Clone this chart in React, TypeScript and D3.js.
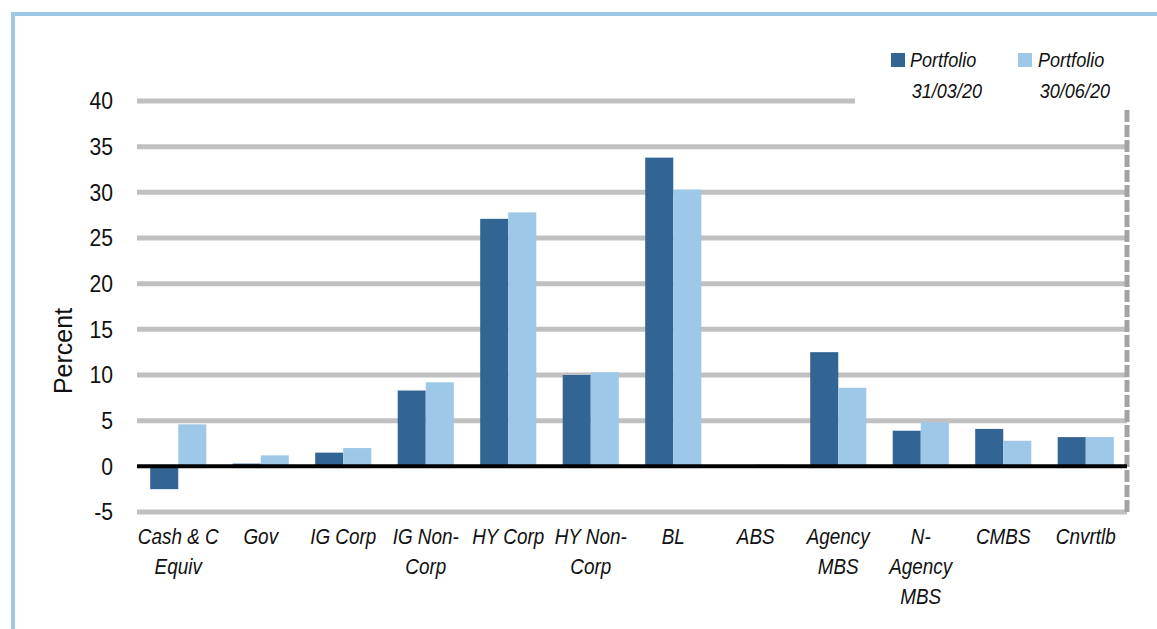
import React, { useEffect, useRef } from 'react';
import * as d3 from 'd3';

const CATEGORIES = [
  'Cash & C|Equiv', 'Gov', 'IG Corp', 'IG Non-|Corp', 'HY Corp', 'HY Non-|Corp',
  'BL', 'ABS', 'Agency|MBS', 'N-|Agency|MBS', 'CMBS', 'Cnvrtlb',
];
const SERIES = ['Portfolio 31/03/20', 'Portfolio 30/06/20'];
const MARCH = [-2.5, 0.3, 1.5, 8.3, 27.1, 10.0, 33.8, 0, 12.5, 3.9, 4.1, 3.2];
const JUNE = [4.6, 1.2, 2.0, 9.2, 27.8, 10.3, 30.3, 0.2, 8.6, 4.8, 2.8, 3.2];
const Y_TICKS = [-5, 0, 5, 10, 15, 20, 25, 30, 35, 40];
const COLORS = ['#336594', '#9dc8e8'];

const App: React.FC = () => {
  const svgRef = useRef<SVGSVGElement>(null);

  useEffect(() => {
    if (!svgRef.current) return;
    const svg = d3.select(svgRef.current);
    svg.selectAll('*').remove();

    const left = 137, right = 1127, top = 101, bottom = 512;
    const sans = '"Liberation Sans", Arial, sans-serif';

    // frame (top + left edge)
    svg.append('path')
      .attr('d', 'M13,629 V14 H1157')
      .attr('fill', 'none')
      .attr('stroke', '#9dc8e8')
      .attr('stroke-width', 4);

    const x = d3.scaleBand<string>()
      .domain(CATEGORIES)
      .range([left, right])
      .paddingInner(0.32)
      .paddingOuter(0.16);

    const xs = d3.scaleBand<string>()
      .domain(SERIES)
      .range([0, x.bandwidth()]);

    const y = d3.scaleLinear().domain([-5, 40]).range([bottom, top]);

    // gridlines
    svg.append('g')
      .selectAll('line')
      .data(Y_TICKS.filter(t => t !== 0))
      .enter()
      .append('line')
      .attr('x1', left)
      .attr('x2', d => (d === 40 ? 855 : right))
      .attr('y1', d => y(d))
      .attr('y2', d => y(d))
      .attr('stroke', '#c0c0c0')
      .attr('stroke-width', 5);

    // right dashed edge
    svg.append('line')
      .attr('x1', right)
      .attr('x2', right)
      .attr('y1', 110)
      .attr('y2', bottom + 3)
      .attr('stroke', '#a3a3a3')
      .attr('stroke-width', 5)
      .attr('stroke-dasharray', '12,3');

    // y tick labels
    svg.append('g')
      .selectAll('text')
      .data(Y_TICKS)
      .enter()
      .append('text')
      .attr('transform', d => `translate(113,${y(d)}) scale(0.92,1)`)
      .attr('dy', '0.36em')
      .attr('text-anchor', 'end')
      .attr('font-family', sans)
      .attr('font-size', 23)
      .attr('fill', '#111')
      .text(d => String(d));

    svg.append('text')
      .attr('transform', `translate(72,351) rotate(-90)`)
      .attr('text-anchor', 'middle')
      .attr('font-family', sans)
      .attr('font-size', 25)
      .attr('fill', '#111')
      .text('Percent');

    // bars
    const rows = CATEGORIES.map((c, i) => ({ c, vals: [MARCH[i], JUNE[i]] }));
    const groups = svg.append('g')
      .selectAll('g')
      .data(rows)
      .enter()
      .append('g')
      .attr('transform', d => `translate(${x(d.c)},0)`);

    groups.selectAll('rect')
      .data(d => d.vals.map((v, k) => ({ v, k })))
      .enter()
      .append('rect')
      .attr('x', d => xs(SERIES[d.k]) as number)
      .attr('width', xs.bandwidth())
      .attr('y', d => y(Math.max(0, d.v)))
      .attr('height', d => Math.abs(y(d.v) - y(0)))
      .attr('fill', d => COLORS[d.k]);

    // zero line
    svg.append('line')
      .attr('x1', left)
      .attr('x2', right)
      .attr('y1', y(0))
      .attr('y2', y(0))
      .attr('stroke', '#000')
      .attr('stroke-width', 4);

    // x labels (condensed italic)
    const labels = svg.append('g')
      .selectAll('text')
      .data(CATEGORIES)
      .enter()
      .append('text')
      .attr('transform', d => `translate(${(x(d) as number) + x.bandwidth() / 2},544) scale(0.86,1)`)
      .attr('text-anchor', 'middle')
      .attr('font-family', sans)
      .attr('font-style', 'italic')
      .attr('font-size', 22)
      .attr('fill', '#111');

    labels.selectAll('tspan')
      .data(d => d.split('|'))
      .enter()
      .append('tspan')
      .attr('x', 0)
      .attr('dy', (_, i) => (i === 0 ? 0 : 30))
      .text(d => d);

    // legend
    const legend = [
      { sx: 891, tx: 910, lines: ['Portfolio', '31/03/20'] },
      { sx: 1018, tx: 1038, lines: ['Portfolio', '30/06/20'] },
    ];
    legend.forEach((l, i) => {
      svg.append('rect')
        .attr('x', l.sx)
        .attr('y', 53)
        .attr('width', 14)
        .attr('height', 14)
        .attr('fill', COLORS[i]);
      const t = svg.append('text')
        .attr('transform', `translate(${l.tx},0) scale(0.86,1)`)
        .attr('font-family', sans)
        .attr('font-style', 'italic')
        .attr('font-size', 21)
        .attr('fill', '#111');
      t.append('tspan').attr('x', 0).attr('y', 67).text(l.lines[0]);
      t.append('tspan').attr('x', 2).attr('y', 98).text(l.lines[1]);
    });
  }, []);

  return (
    <svg
      ref={svgRef}
      width={1157}
      height={629}
      style={{ position: 'absolute', left: 0, top: 0, background: '#fff' }}
    />
  );
};

export default App;
